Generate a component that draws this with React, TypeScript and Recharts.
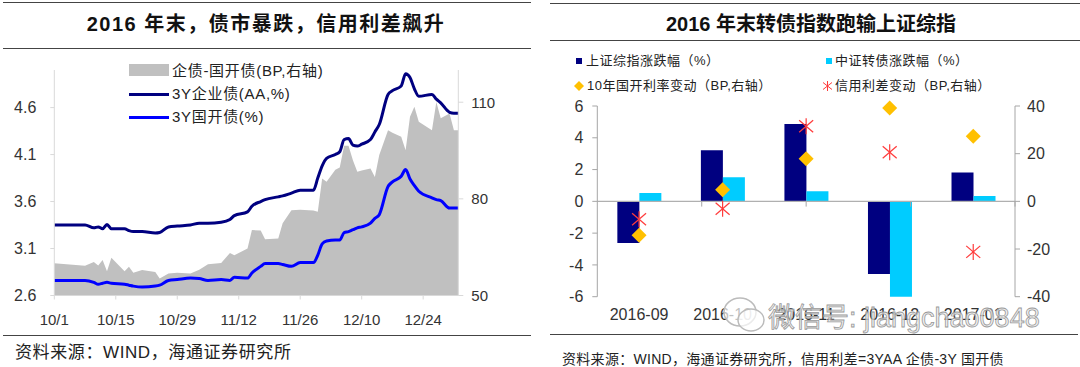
import React from 'react'
import {
  Area,
  Bar,
  ComposedChart,
  Line,
  ReferenceLine,
  Scatter,
  XAxis,
  YAxis,
} from 'recharts'

// left panel: daily yields, Oct 2016 - Jan 2017
const dates = [
  '10/1', '10/8', '10/10', '10/11', '10/12', '10/13', '10/14', '10/17', '10/18', '10/19',
  '10/21', '10/24', '10/25', '10/27', '10/29', '11/1', '11/3', '11/5', '11/8', '11/10',
  '11/11', '11/14', '11/15', '11/17', '11/18', '11/21', '11/22', '11/24', '11/26', '11/29',
  '11/30', '12/1', '12/2', '12/4', '12/5', '12/6', '12/7', '12/8', '12/9', '12/10',
  '12/12', '12/13', '12/14', '12/16', '12/17', '12/19', '12/20', '12/21', '12/22', '12/23',
  '12/26', '12/27', '12/28', '12/30', '12/31', '1/1',
]
const aaYield = [
  3.35, 3.35, 3.32, 3.33, 3.31, 3.355, 3.31, 3.31, 3.29, 3.28,
  3.28, 3.265, 3.27, 3.33, 3.34, 3.35, 3.37, 3.37, 3.38, 3.41,
  3.45, 3.49, 3.55, 3.6, 3.62, 3.65, 3.66, 3.69, 3.72, 3.72,
  3.85, 3.98, 4.06, 4.1, 4.13, 4.26, 4.27, 4.2, 4.19, 4.21,
  4.26, 4.34, 4.42, 4.74, 4.78, 4.83, 4.96, 4.92, 4.8, 4.72,
  4.74, 4.69, 4.65, 4.55, 4.54, 4.54,
]
const cdbYield = [
  2.76, 2.76, 2.74, 2.72, 2.73, 2.74, 2.73, 2.72, 2.71, 2.7,
  2.69, 2.7, 2.71, 2.76, 2.77, 2.785, 2.78, 2.76, 2.77, 2.76,
  2.795, 2.785, 2.84, 2.91, 2.94, 2.94, 2.93, 2.91, 2.95, 2.95,
  3.03, 3.15, 3.18, 3.19, 3.19, 3.27, 3.28, 3.3, 3.32, 3.33,
  3.37, 3.42, 3.46, 3.76, 3.81, 3.87, 3.94, 3.84, 3.77, 3.71,
  3.64, 3.62, 3.61, 3.53, 3.53, 3.53,
]
const spreadBp = [
  60, 59.2, 60.4, 59.3, 61, 57.5, 61.7, 57.5, 58.9, 57.1,
  57.9, 57.3, 55.3, 56.8, 57.1, 56.8, 58, 59.7, 60.1, 63.2,
  62.5, 64.6, 70.3, 70.2, 67.5, 67.7, 72.4, 76.5, 76.6, 76.4,
  76, 86.3, 85.3, 89, 89.7, 96.5, 96.5, 92, 88.4, 88.8,
  89.4, 86.8, 93.6, 101.3, 100.5, 99.3, 95.1, 105.5, 108.6, 103.9,
  101.3, 110.1, 105, 106.5, 101.3, 101.3,
]
const dateTicks = ['10/1', '10/15', '10/29', '11/12', '11/26', '12/10', '12/24']

// right panel: monthly changes
const months = ['2016-09', '2016-10', '2016-11', '2016-12', '2017-01']
const shChange = [-2.62, 3.22, 4.86, -4.57, 1.81]
const cbChange = [0.52, 1.52, 0.63, -6.2, 0.33]
const cdbRateChange = [-14.2, 4.9, 17.9, 39.2, 27.3]
const spreadChange = [-7.5, -3.1, 31.5, 20.6, -21.2]

const FONT = '"Liberation Sans", Arial, "Noto Sans CJK SC", sans-serif'
const NAVY = '#000080'
const BLUE = '#0000ff'
const GREY = '#c0c0c0'
const CYAN = '#00ccff'
const GOLD = '#ffc000'
const RED = '#ff3b3b'

// days since 10/1
function dayOf(s: string) {
  const [m, d] = s.split('/').map(Number)
  if (m === 10) return d - 1
  if (m === 11) return 30 + d
  if (m === 12) return 60 + d
  return 91 + d
}

const leftData = dates.map((d, i) => ({
  day: dayOf(d),
  aa: aaYield[i],
  cdb: cdbYield[i],
  spread: spreadBp[i],
}))
const tickDays = dateTicks.map(dayOf)
const tickLabel: Record<number, string> = {}
dateTicks.forEach((t) => (tickLabel[dayOf(t)] = t))

const rightData = months.map((m, i) => ({
  month: m,
  sh: shChange[i],
  cb: cbChange[i],
  rate: cdbRateChange[i],
  credit: spreadChange[i],
}))

const Diamond = (p: any) => {
  const { cx, cy } = p
  if (cx == null || cy == null) return null
  const r = 7.5
  return (
    <polygon
      points={`${cx},${cy - r} ${cx + r},${cy} ${cx},${cy + r} ${cx - r},${cy}`}
      fill={GOLD}
    />
  )
}

const Asterisk = (p: any) => {
  const { cx, cy } = p
  if (cx == null || cy == null) return null
  return (
    <g stroke={RED} strokeWidth={1.2}>
      <line x1={cx} y1={cy - 8} x2={cx} y2={cy + 8} />
      <line x1={cx - 7} y1={cy - 6} x2={cx + 7} y2={cy + 6} />
      <line x1={cx - 7} y1={cy + 6} x2={cx + 7} y2={cy - 6} />
    </g>
  )
}

const tickStyle = { fill: '#333', fontSize: 15, fontFamily: FONT }
const tickStyleR = { fill: '#333', fontSize: 16, fontFamily: FONT }

const hr = (left: number, width: number, top: number) => (
  <div
    style={{
      position: 'absolute',
      left,
      width,
      top,
      height: 0,
      borderTop: '1.5px solid #444',
    }}
  />
)

const text = (
  left: number,
  cy: number,
  s: string,
  size: number,
  extra: React.CSSProperties = {}
) => (
  <div
    style={{
      position: 'absolute',
      left,
      top: cy - size * 0.6,
      lineHeight: `${size * 1.2}px`,
      fontSize: size,
      whiteSpace: 'nowrap',
      color: '#222',
      ...extra,
    }}
  >
    {s}
  </div>
)

function LeftPanel() {
  return (
    <>
      {hr(3, 528, 2)}
      {hr(3, 528, 48)}
      <div
        style={{
          position: 'absolute',
          left: 0,
          width: 532,
          top: 12,
          lineHeight: '24px',
          textAlign: 'center',
          fontSize: 20,
          fontWeight: 'bold',
          letterSpacing: 1.5,
          color: '#111',
        }}
      >
        2016 年末，债市暴跌，信用利差飙升
      </div>
      <div style={{ position: 'absolute', left: 0, top: 0 }}>
        <ComposedChart
          width={540}
          height={367}
          data={leftData}
          margin={{ top: 70, right: 0, bottom: 41.5, left: 0 }}
        >
          <XAxis
            dataKey="day"
            type="number"
            domain={[0, 92]}
            ticks={tickDays}
            tickFormatter={(v: number) => tickLabel[v]}
            height={30}
            tickSize={4}
            tickMargin={15}
            stroke="#d9d9d9"
            tick={tickStyle}
          />
          <YAxis
            yAxisId="left"
            domain={[2.6, 5.0]}
            ticks={[2.6, 3.1, 3.6, 4.1, 4.6]}
            tickFormatter={(v: number) => v.toFixed(1)}
            width={54.3}
            tickSize={4}
            tickMargin={14}
            stroke="#d9d9d9"
            tick={{ ...tickStyle, fontSize: 16 }}
          />
          <YAxis
            yAxisId="right"
            orientation="right"
            domain={[50, 120]}
            ticks={[50, 80, 110]}
            width={81.7}
            tickSize={5}
            tickMargin={8}
            stroke="#d9d9d9"
            tick={tickStyle}
          />
          <Area
            yAxisId="right"
            dataKey="spread"
            type="linear"
            fill={GREY}
            fillOpacity={1}
            stroke="none"
            isAnimationActive={false}
          />
          <Line
            yAxisId="left"
            dataKey="aa"
            type="monotone"
            stroke={NAVY}
            strokeWidth={3}
            dot={false}
            isAnimationActive={false}
          />
          <Line
            yAxisId="left"
            dataKey="cdb"
            type="monotone"
            stroke={BLUE}
            strokeWidth={3}
            dot={false}
            isAnimationActive={false}
          />
        </ComposedChart>
      </div>
      {/* legend */}
      <div style={{ position: 'absolute', left: 129, top: 64, width: 40, height: 12, background: GREY }} />
      {text(172, 70.5, '企债-国开债(BP,右轴)', 15, { letterSpacing: 0.7 })}
      <div style={{ position: 'absolute', left: 129, top: 92.5, width: 40, height: 3, background: NAVY }} />
      {text(172, 94, '3Y企业债(AA,%)', 15, { letterSpacing: 0.7 })}
      <div style={{ position: 'absolute', left: 129, top: 115.5, width: 40, height: 3, background: BLUE }} />
      {text(172, 117, '3Y国开债(%)', 15, { letterSpacing: 0.7 })}

      {hr(3, 528, 335)}
      {text(15, 353, '资料来源：WIND，海通证券研究所', 17, { letterSpacing: 0.6 })}
    </>
  )
}

function RightPanel() {
  return (
    <>
      {hr(550, 530, 3)}
      {hr(550, 530, 40)}
      <div
        style={{
          position: 'absolute',
          left: 550,
          width: 522,
          top: 12,
          lineHeight: '24px',
          textAlign: 'center',
          fontSize: 20,
          fontWeight: 'bold',
          color: '#111',
        }}
      >
        2016 年末转债指数跑输上证综指
      </div>
      {/* legend */}
      <div style={{ position: 'absolute', left: 576, top: 58, width: 6, height: 6, background: NAVY }} />
      {text(586, 61, '上证综指涨跌幅（%）', 13, { letterSpacing: 0.5 })}
      <div style={{ position: 'absolute', left: 826, top: 58, width: 6, height: 6, background: CYAN }} />
      {text(835, 61, '中证转债涨跌幅（%）', 13, { letterSpacing: 0.5 })}
      <svg style={{ position: 'absolute', left: 574, top: 79 }} width={12} height={14}>
        <polygon points="5,2 10,7 5,12 0,7" fill={GOLD} />
      </svg>
      {text(587, 86, '10年国开利率变动（BP,右轴）', 13, { letterSpacing: 0.5 })}
      <svg style={{ position: 'absolute', left: 822, top: 79 }} width={12} height={14}>
        <g stroke={RED} strokeWidth={1}>
          <line x1={5.5} y1={2} x2={5.5} y2={12} />
          <line x1={1} y1={3.5} x2={10} y2={10.5} />
          <line x1={1} y1={10.5} x2={10} y2={3.5} />
        </g>
      </svg>
      {text(835, 86, '信用利差变动（BP,右轴）', 13, { letterSpacing: 0.5 })}

      <div style={{ position: 'absolute', left: 540, top: 0 }}>
        <ComposedChart
          width={540}
          height={367}
          data={rightData}
          margin={{ top: 106, right: 0, bottom: 40.3, left: 0 }}
          barCategoryGap="24%"
          barGap={0}
        >
          <XAxis
            dataKey="month"
            interval={0}
            height={30}
            axisLine={false}
            tickLine={false}
            tickSize={0}
            tickMargin={12}
            tick={tickStyleR}
          />
          <XAxis xAxisId="pos" type="number" domain={[0, 5]} hide />
          <YAxis
            yAxisId="left"
            domain={[-6, 6]}
            ticks={[-6, -4, -2, 0, 2, 4, 6]}
            allowDataOverflow
            width={57.3}
            tickSize={5}
            tickMargin={9}
            stroke="#a6a6a6"
            tick={tickStyleR}
          />
          <YAxis
            yAxisId="right"
            orientation="right"
            domain={[-40, 40]}
            ticks={[-40, -20, 0, 20, 40]}
            width={65}
            tickSize={5}
            tickMargin={7}
            stroke="#a6a6a6"
            tick={tickStyleR}
          />
          <ReferenceLine yAxisId="left" y={0} stroke="#b0b0b0" strokeWidth={1.2} />
          {[1, 2, 3, 4].map((i) => (
            <ReferenceLine
              key={i}
              xAxisId="pos"
              yAxisId="left"
              segment={[
                { x: i, y: 0 },
                { x: i, y: -0.33 },
              ]}
              stroke="#a6a6a6"
            />
          ))}
          <Bar yAxisId="left" dataKey="sh" fill={NAVY} isAnimationActive={false} />
          <Bar yAxisId="left" dataKey="cb" fill={CYAN} isAnimationActive={false} />
          <Scatter
            yAxisId="right"
            dataKey="rate"
            shape={<Diamond />}
            isAnimationActive={false}
          />
          <Scatter
            yAxisId="right"
            dataKey="credit"
            shape={<Asterisk />}
            isAnimationActive={false}
          />
        </ComposedChart>
      </div>

      {/* watermark */}
      <svg style={{ position: 'absolute', left: 720, top: 293 }} width={50} height={44}>
        <ellipse cx={20} cy={19} rx={16} ry={14} fill="rgba(255,255,255,0.7)" stroke="#bbb" strokeWidth={1.5} />
        <ellipse cx={31} cy={27} rx={13} ry={11} fill="rgba(255,255,255,0.7)" stroke="#bbb" strokeWidth={1.5} />
      </svg>
      {text(768, 318, '微信号: jiangchao0848', 27, {
        color: 'rgba(235,235,235,0.75)',
        WebkitTextStroke: '0.8px #999',
      })}

      {hr(550, 528, 334)}
      {text(562, 359, '资料来源：WIND，海通证券研究所，信用利差=3YAA 企债-3Y 国开债', 14, {
        letterSpacing: 0.3,
      })}
    </>
  )
}

export default function App() {
  return (
    <div
      style={{
        position: 'absolute',
        left: 0,
        top: 0,
        width: 1080,
        height: 367,
        background: '#fff',
        fontFamily: FONT,
        overflow: 'hidden',
      }}
    >
      <LeftPanel />
      <RightPanel />
    </div>
  )
}
